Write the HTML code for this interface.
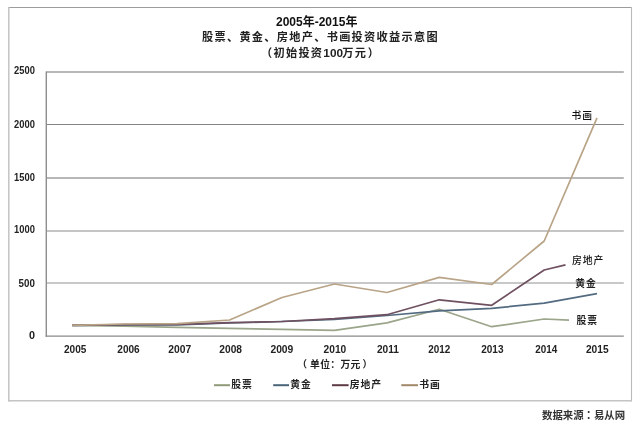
<!DOCTYPE html>
<html><head><meta charset="utf-8"><style>
html,body{margin:0;padding:0;background:#fff;}
svg{display:block;}
.ax{font-family:"Liberation Sans", "Noto Sans CJK SC", sans-serif;font-weight:bold;font-size:10.7px;fill:#222;}
.ay{font-family:"Liberation Sans", "Noto Sans CJK SC", sans-serif;font-weight:bold;font-size:10.4px;fill:#222;}
.lb{font-family:"Noto Sans CJK SC", "Liberation Sans", sans-serif;font-weight:bold;font-size:10px;fill:#222;}
.t1{font-family:"Liberation Sans", "Noto Sans CJK SC", sans-serif;font-weight:bold;font-size:12px;fill:#111;}
.t2{font-family:"Noto Sans CJK SC", "Liberation Sans", sans-serif;font-weight:bold;font-size:11.2px;letter-spacing:1.28px;fill:#222;}
.b{font-family:"Liberation Sans",sans-serif;font-weight:bold;font-size:11.8px;letter-spacing:0;}
.sl{font-family:"Noto Sans CJK SC", "Liberation Sans", sans-serif;font-weight:bold;font-size:9.8px;letter-spacing:0.9px;fill:#222;}
.sm{font-weight:500;fill:#111;}
.tc{font-family:"Noto Sans CJK TC",sans-serif;}
.un{font-family:"Noto Sans CJK SC", "Liberation Sans", sans-serif;font-weight:bold;font-size:9.8px;letter-spacing:0.3px;fill:#222;}
.src{font-family:"Noto Sans CJK SC", "Liberation Sans", sans-serif;font-weight:bold;font-size:10.4px;fill:#333;}
</style></head><body>
<svg width="640" height="433" viewBox="0 0 640 433">
<rect width="640" height="433" fill="#fff"/>
<line x1="8" y1="7.5" x2="632" y2="7.5" stroke="#9c9c9c" stroke-width="1"/>
<line x1="8.8" y1="7" x2="8.8" y2="401.5" stroke="#c4c4c4" stroke-width="1.5"/>
<line x1="631.5" y1="7" x2="631.5" y2="401.5" stroke="#bababa" stroke-width="1.1"/>
<line x1="8" y1="400.8" x2="632" y2="400.8" stroke="#c4c4c4" stroke-width="1.5"/>
<line x1="46.3" y1="72.0" x2="623.8" y2="72.0" stroke="#707070" stroke-width="1"/>
<line x1="46.3" y1="124.5" x2="623.8" y2="124.5" stroke="#858585" stroke-width="1"/>
<line x1="46.3" y1="178.0" x2="623.8" y2="178.0" stroke="#717171" stroke-width="1"/>
<line x1="46.3" y1="231.0" x2="623.8" y2="231.0" stroke="#8b8b8b" stroke-width="1"/>
<line x1="46.3" y1="283.0" x2="623.8" y2="283.0" stroke="#919191" stroke-width="1"/>
<line x1="46.3" y1="71.4" x2="46.3" y2="336.8" stroke="#8e8e8e" stroke-width="1.4"/>
<line x1="45.6" y1="336.2" x2="623.8" y2="336.2" stroke="#8a8a8a" stroke-width="1.3"/>
<text x="34.9" y="74.4" text-anchor="end" textLength="20.8" lengthAdjust="spacingAndGlyphs" class="ay">2500</text>
<text x="34.9" y="127.8" text-anchor="end" textLength="20.8" lengthAdjust="spacingAndGlyphs" class="ay">2000</text>
<text x="34.9" y="180.6" text-anchor="end" textLength="20.8" lengthAdjust="spacingAndGlyphs" class="ay">1500</text>
<text x="34.9" y="233.2" text-anchor="end" textLength="20.8" lengthAdjust="spacingAndGlyphs" class="ay">1000</text>
<text x="34.9" y="286.6" text-anchor="end" textLength="16.3" lengthAdjust="spacingAndGlyphs" class="ay">500</text>
<text x="34.9" y="339.1" text-anchor="end" textLength="6.0" lengthAdjust="spacingAndGlyphs" class="ay">0</text>
<text x="64.00" y="352.8" textLength="22.40" lengthAdjust="spacingAndGlyphs" class="ax">2005</text>
<text x="117.30" y="352.8" textLength="22.40" lengthAdjust="spacingAndGlyphs" class="ax">2006</text>
<text x="168.25" y="352.8" textLength="22.95" lengthAdjust="spacingAndGlyphs" class="ax">2007</text>
<text x="219.30" y="352.8" textLength="22.70" lengthAdjust="spacingAndGlyphs" class="ax">2008</text>
<text x="270.40" y="352.8" textLength="22.95" lengthAdjust="spacingAndGlyphs" class="ax">2009</text>
<text x="323.60" y="352.8" textLength="22.70" lengthAdjust="spacingAndGlyphs" class="ax">2010</text>
<text x="376.90" y="352.8" textLength="22.00" lengthAdjust="spacingAndGlyphs" class="ax">2011</text>
<text x="428.25" y="352.8" textLength="22.05" lengthAdjust="spacingAndGlyphs" class="ax">2012</text>
<text x="481.20" y="352.8" textLength="22.30" lengthAdjust="spacingAndGlyphs" class="ax">2013</text>
<text x="535.20" y="352.8" textLength="22.00" lengthAdjust="spacingAndGlyphs" class="ax">2014</text>
<text x="585.90" y="352.8" textLength="22.70" lengthAdjust="spacingAndGlyphs" class="ax">2015</text>
<polyline points="72.3,325.3 124.7,326.2 177.2,327.4 229.6,328.4 282.0,329.3 334.4,330.3 386.9,322.9 439.3,309.2 491.7,326.7 544.2,319.0 569.0,320.1" fill="none" stroke="#9aa58a" stroke-width="1.7" stroke-linejoin="round"/>
<polyline points="72.3,325.3 124.7,325.0 177.2,325.0 229.6,323.0 282.0,321.5 334.4,319.5 386.9,315.5 439.3,310.8 491.7,308.3 544.2,303.2 597.0,293.7" fill="none" stroke="#536b80" stroke-width="1.7" stroke-linejoin="round"/>
<polyline points="72.3,325.3 124.7,324.6 177.2,324.4 229.6,322.6 282.0,321.5 334.4,318.7 386.9,314.7 439.3,299.8 491.7,305.3 544.2,270.0 565.5,264.8" fill="none" stroke="#6f5060" stroke-width="1.7" stroke-linejoin="round"/>
<polyline points="72.3,325.3 124.7,324.0 177.2,323.7 229.6,320.0 282.0,297.5 334.4,284.0 386.9,292.5 439.3,277.4 491.7,284.5 544.2,241.0 597.0,117.8" fill="none" stroke="#b9a487" stroke-width="1.7" stroke-linejoin="round"/>
<text x="571.5" y="118.7" class="sl sm">书画</text>
<text x="572" y="264" class="sl sm">房地产</text>
<text x="575.2" y="287.2" class="sl">黄金</text>
<text x="576.6" y="324" class="sl">股票</text>
<text x="316.7" y="25.6" text-anchor="middle" class="t1">2005年-2015年</text>
<text x="202" y="41" class="t2">股票、黄金、房地产、书画投资收益示意图</text>
<text x="261" y="56.8" class="t2">（初始投资<tspan class="b">100</tspan><tspan dx="-0.8">万</tspan>元<tspan dx="0.5">）</tspan></text>
<text x="297.3" y="367.8" class="un">（<tspan dx="2.7">单</tspan>位：万元<tspan dx="2">）</tspan></text>
<line x1="214" y1="385.2" x2="230" y2="385.2" stroke="#8f9a78" stroke-width="2"/>
<text x="231.2" y="388.2" class="sl">股票</text>
<line x1="273.2" y1="385.2" x2="289" y2="385.2" stroke="#4a6478" stroke-width="2"/>
<text x="290.2" y="388.2" class="sl">黄金</text>
<line x1="332" y1="385.2" x2="348.6" y2="385.2" stroke="#5e3a44" stroke-width="2"/>
<text x="349.8" y="388.2" class="sl">房地产</text>
<line x1="401.3" y1="385.2" x2="418" y2="385.2" stroke="#a08868" stroke-width="2"/>
<text x="419.2" y="388.2" class="sl">书画</text>
<text x="542" y="419" class="src">数据来源<tspan class="tc">：</tspan>易从网</text>
</svg>
</body></html>
